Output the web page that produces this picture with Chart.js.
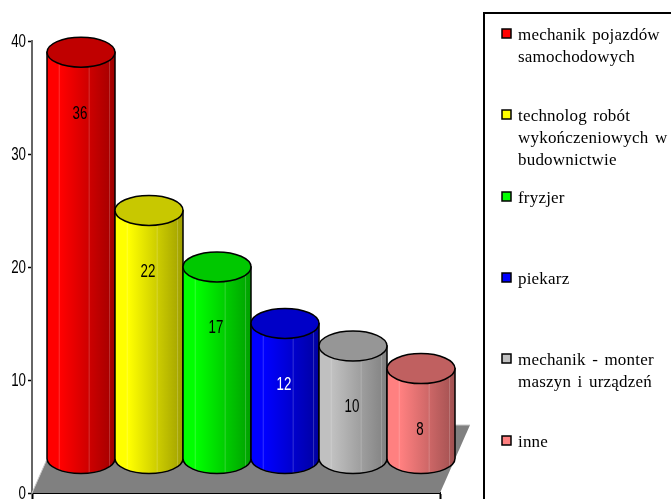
<!DOCTYPE html>
<html>
<head>
<meta charset="utf-8">
<style>
html, body { margin: 0; padding: 0; background: #fff; overflow: hidden; }
canvas { display: block; }
</style>
<script src="https://cdn.jsdelivr.net/npm/chart.js@4/dist/chart.umd.min.js"></script>
</head>
<body>
<canvas id="myChart" width="671" height="499"></canvas>
<script>
const categories = [
  ['mechanik pojazdów', 'samochodowych'],
  ['technolog robót', 'wykończeniowych w', 'budownictwie'],
  ['fryzjer'],
  ['piekarz'],
  ['mechanik - monter', 'maszyn i urządzeń'],
  ['inne']
];
const values = [36, 22, 17, 12, 10, 8];
const tickLabels = [0, 10, 20, 30, 40];

const barLight = ['#ff0000', '#ffff00', '#00ff00', '#0000ff', '#c0c0c0', '#ff8080'];
const barDark = ['#a00000', '#a0a000', '#00a000', '#0000a0', '#808080', '#a05050'];
const barTop = ['#c00000', '#c8c800', '#00c800', '#0000c8', '#969696', '#c06060'];
const valueColors = ['#000', '#000', '#000', '#fff', '#000', '#000'];
const legendRows = [29, 110, 192, 273, 354, 436];

const depthX = 15, depthY = 34, capRy = 15;

// no narrow face installed, so squeeze Liberation Sans sideways
function narrowText(ctx, text, x, y, align) {
  ctx.save();
  ctx.translate(x, y + 1.5);
  ctx.scale(0.74, 1);
  ctx.font = '18px "Liberation Sans", sans-serif';
  ctx.textAlign = align;
  ctx.textBaseline = 'middle';
  ctx.fillText(text, 0, 0);
  ctx.restore();
}

function drawFloor(ctx, area) {
  ctx.beginPath();
  ctx.moveTo(area.left, area.bottom);
  ctx.lineTo(area.right, area.bottom);
  ctx.lineTo(area.right + depthX * 2, area.bottom - depthY * 2);
  ctx.lineTo(area.left + depthX * 2, area.bottom - depthY * 2);
  ctx.closePath();
  ctx.fillStyle = '#808080';
  ctx.fill();
  ctx.beginPath();
  ctx.moveTo(area.left, area.bottom);
  ctx.lineTo(area.left + depthX * 2, area.bottom - depthY * 2);
  ctx.lineTo(area.right + depthX * 2, area.bottom - depthY * 2);
  ctx.strokeStyle = '#c8c8c8';
  ctx.lineWidth = 1;
  ctx.stroke();
}

function drawCylinder(ctx, bar, i) {
  var cx = bar.x + depthX;
  var rx = bar.width / 2;
  var top = bar.y - depthY;
  var base = bar.base - depthY;

  var g = ctx.createLinearGradient(cx - rx, 0, cx + rx, 0);
  g.addColorStop(0, barLight[i]);
  g.addColorStop(0.2, barLight[i]);
  g.addColorStop(1, barDark[i]);

  var side = new Path2D();
  side.moveTo(cx - rx, top);
  side.lineTo(cx - rx, base);
  side.ellipse(cx, base, rx, capRy, 0, Math.PI, 0, true);
  side.lineTo(cx + rx, top);
  side.closePath();
  ctx.fillStyle = g;
  ctx.fill(side);

  // thin light stripes on the side of the cylinder
  ctx.save();
  ctx.clip(side);
  ctx.strokeStyle = 'rgba(255,255,255,0.2)';
  ctx.lineWidth = 1;
  [0.18, 0.62, 0.92].forEach(function(f) {
    ctx.beginPath();
    ctx.moveTo(cx - rx + f * bar.width, top);
    ctx.lineTo(cx - rx + f * bar.width, base + capRy);
    ctx.stroke();
  });
  ctx.restore();

  ctx.strokeStyle = '#000';
  ctx.lineWidth = 1.5;
  ctx.stroke(side);

  ctx.beginPath();
  ctx.ellipse(cx, top, rx, capRy, 0, 0, Math.PI * 2);
  ctx.fillStyle = barTop[i];
  ctx.fill();
  ctx.stroke();

  ctx.fillStyle = valueColors[i];
  narrowText(ctx, values[i], cx - 1, top + 60, 'center');
}

function drawLegend(ctx) {
  ctx.strokeStyle = '#000';
  ctx.lineWidth = 2;
  ctx.beginPath();
  ctx.moveTo(484, 499);
  ctx.lineTo(484, 13);
  ctx.lineTo(671, 13);
  ctx.stroke();

  ctx.font = '17px "Liberation Serif", serif';
  ctx.letterSpacing = '0.2px';
  ctx.wordSpacing = '2px';
  ctx.textAlign = 'left';
  ctx.textBaseline = 'alphabetic';
  categories.forEach(function(lines, i) {
    var y = legendRows[i];
    ctx.fillStyle = barLight[i];
    ctx.fillRect(502, y, 9, 9);
    ctx.strokeStyle = '#000';
    ctx.lineWidth = 1.5;
    ctx.strokeRect(502, y, 9, 9);
    ctx.fillStyle = '#000';
    lines.forEach(function(line, k) {
      ctx.fillText(line, 518, y + 11 + k * 22);
    });
  });
  ctx.letterSpacing = '0px';
  ctx.wordSpacing = '0px';
}

const cylinders = {
  id: 'cylinders',
  beforeDatasetsDraw: function(chart) {
    var ctx = chart.ctx;
    var yScale = chart.scales.y;
    ctx.save();
    drawFloor(ctx, chart.chartArea);
    chart.getDatasetMeta(0).data.forEach(function(bar, i) {
      drawCylinder(ctx, bar, i);
    });
    ctx.fillStyle = '#000';
    tickLabels.forEach(function(v) {
      narrowText(ctx, v, 26, yScale.getPixelForValue(v), 'right');
    });
    drawLegend(ctx);
    ctx.restore();
    return false;
  }
};

var myChart = new Chart(document.getElementById('myChart'), {
  type: 'bar',
  data: {
    labels: categories,
    datasets: [{
      data: values,
      backgroundColor: barLight,
      barPercentage: 1,
      categoryPercentage: 1
    }]
  },
  plugins: [cylinders],
  options: {
    responsive: false,
    animation: false,
    layout: { padding: { top: 41, right: 231, bottom: 0, left: 0 } },
    plugins: { legend: { display: false }, tooltip: { enabled: false } },
    scales: {
      x: {
        afterFit: function(scale) { scale.height = 6; },
        ticks: { display: false },
        border: { color: '#000', width: 2 },
        grid: {
          offset: true,
          drawOnChartArea: false,
          tickLength: 6,
          tickWidth: 2,
          // the closing line past the last category has no tick context, so no index
          tickColor: function(c) {
            return (c.index === 0 || c.index === undefined) ? '#000' : 'rgba(0,0,0,0)';
          }
        }
      },
      y: {
        min: 0,
        max: 40,
        afterFit: function(scale) { scale.width = 32; },
        afterBuildTicks: function(scale) {
          scale.ticks = tickLabels.map(function(v) { return { value: v }; });
        },
        ticks: { display: false },
        border: { color: '#666', width: 2 },
        grid: { drawOnChartArea: false, tickLength: 4, tickColor: '#000', tickWidth: 1.5 }
      }
    }
  }
});
</script>
</body>
</html>
